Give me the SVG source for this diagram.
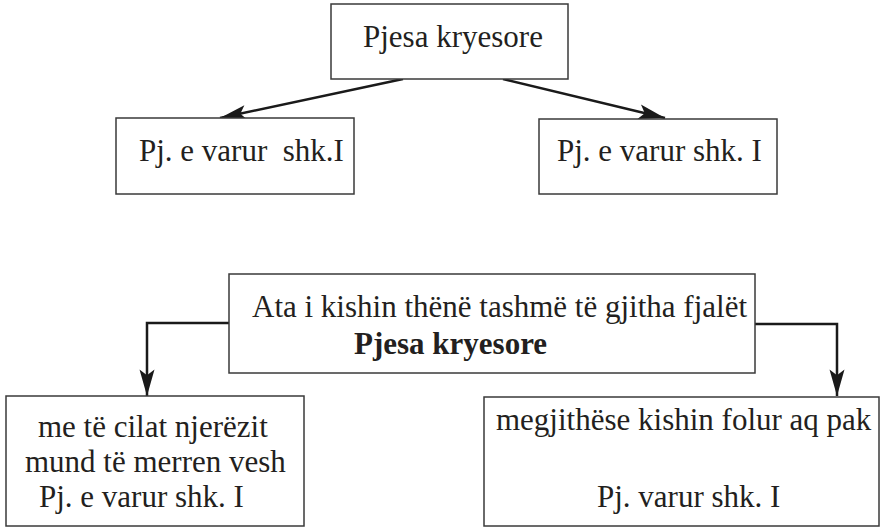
<svg xmlns="http://www.w3.org/2000/svg" width="881" height="529" viewBox="0 0 881 529" font-family="'Liberation Serif', 'Times New Roman', 'DejaVu Serif', serif">
<style>
.box{fill:#fff;stroke:#3a3a3a;stroke-width:1.5}
.t{font-family:'Liberation Serif','Times New Roman','DejaVu Serif',serif;font-size:31px;fill:#231f20}
.b{font-weight:bold}
.c{fill:none;stroke:#1a1a1a;stroke-width:2.5}
</style>
<defs>
<marker id="ah" markerUnits="userSpaceOnUse" markerWidth="30" markerHeight="20" viewBox="-24 -8 26 16" refX="0" refY="0" orient="auto">
<path d="M0,0 L-23,-6.5 L-18,0 L-23,6.5 Z" fill="#1a1a1a"/>
</marker>
</defs>
<rect width="881" height="529" fill="#fff"/>
<g id="connectors">
<line class="c" x1="403" y1="79" x2="220" y2="118" marker-end="url(#ah)"/>
<line class="c" x1="503" y1="79" x2="665" y2="118" marker-end="url(#ah)"/>
<polyline class="c" points="229,323 147,323 147,396" marker-end="url(#ah)"/>
<polyline class="c" points="755,324 837,324 837,396" marker-end="url(#ah)"/>
</g>
<g id="top">
<rect class="box" x="331" y="4" width="237" height="75"/>
<text class="t" x="363" y="47">Pjesa kryesore</text>
</g>
<g id="top-left">
<rect class="box" x="116" y="118" width="238" height="76"/>
<text class="t" x="139" y="161" xml:space="preserve">Pj. e varur  shk.I</text>
</g>
<g id="top-right">
<rect class="box" x="539" y="119" width="238" height="75"/>
<text class="t" x="557" y="161">Pj. e varur shk. I</text>
</g>
<g id="main">
<rect class="box" x="229" y="274" width="526" height="99"/>
<text class="t" x="252" y="317">Ata i kishin thënë tashmë të gjitha fjalët</text>
<text class="t b" x="354" y="354">Pjesa kryesore</text>
</g>
<g id="bottom-left">
<rect class="box" x="6" y="396" width="298" height="130"/>
<text class="t" x="38" y="437">me të cilat njerëzit</text>
<text class="t" x="25" y="472">mund të merren vesh</text>
<text class="t" x="39" y="507">Pj. e varur shk. I</text>
</g>
<g id="bottom-right">
<rect class="box" x="484" y="397" width="395" height="129"/>
<text class="t" x="496" y="430">megjithëse kishin folur aq pak</text>
<text class="t" x="597" y="507">Pj. varur shk. I</text>
</g>
</svg>
